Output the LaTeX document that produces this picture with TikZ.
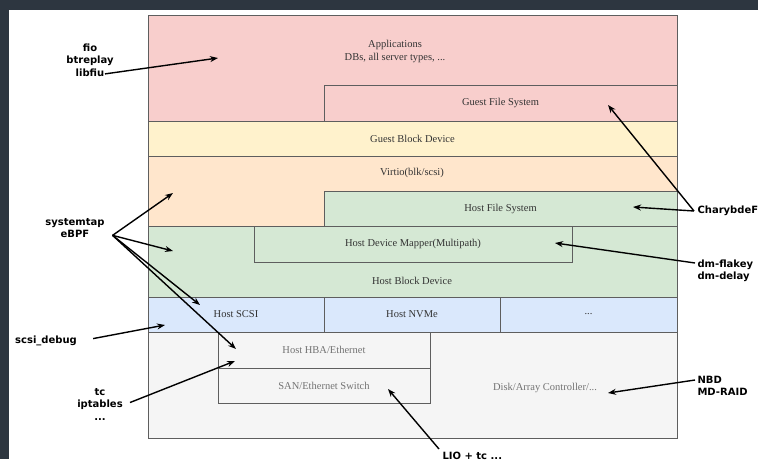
\documentclass[tikz,border=0pt]{standalone}
\usepackage{fontspec}
\setmainfont{Liberation Serif}
\newfontfamily\tagfont{DejaVu Sans}
\usepackage{xcolor}
\usetikzlibrary{arrows.meta,positioning,calc}
\definecolor{framedark}{HTML}{2D3640}
\definecolor{appfill}{HTML}{F8CECC}
\definecolor{gbdfill}{HTML}{FFF2CC}
\definecolor{virtfill}{HTML}{FFE6CC}
\definecolor{hostfill}{HTML}{D5E8D4}
\definecolor{scsifill}{HTML}{DAE8FC}
\definecolor{diskfill}{HTML}{F5F5F5}
\definecolor{edge}{HTML}{5E5E5E}

\begin{document}
\begin{tikzpicture}[x = 1pt, y = -1pt,
    layer/.style = {draw = edge, line width = 1pt, inner sep = 0pt, outer sep = 0pt, anchor = north west, font = \fontsize{10.5}{12}\selectfont, text = black!80},
    boxtext/.style = {align = center, font = \fontsize{10.5}{13}\selectfont, text = black!80},
    tool/.style = {align = center, font = \tagfont\bfseries\fontsize{10}{12.5}\selectfont},
    pointer/.style = {-{Stealth[length = 8pt, width = 6pt]}, line width = 1.4pt}]
    \useasboundingbox (0,0) rectangle (758,459);
    \fill[white] (0,0) rectangle (758,459);
    \fill[framedark] (0,0) rectangle (758,10);
    \fill[framedark] (0,0) rectangle (9,459);
    %%%%%%%%%%
    \node[layer, fill = appfill, minimum width = 529pt, minimum height = 106pt] (apps) at (148,15) {};
    \node[layer, fill = appfill, minimum width = 353pt, minimum height = 36pt] (guestfs) at (324,85) {Guest File System};
    \node[layer, fill = gbdfill, minimum width = 529pt, minimum height = 35pt] (gbd) at (148,121) {Guest Block Device};
    \node[layer, fill = virtfill, minimum width = 529pt, minimum height = 70pt] (virtio) at (148,156) {};
    \node[layer, fill = hostfill, minimum width = 353pt, minimum height = 35pt] (hostfs) at (324,191) {Host File System};
    \node[layer, fill = hostfill, minimum width = 529pt, minimum height = 71pt] (hbd) at (148,226) {};
    \node[layer, fill = hostfill, minimum width = 318pt, minimum height = 36pt] (dm) at (254,226) {Host Device Mapper(Multipath)};
    \node[layer, fill = scsifill, minimum width = 176pt, minimum height = 35pt] (scsi) at (148,297) {Host SCSI};
    \node[layer, fill = scsifill, minimum width = 176pt, minimum height = 35pt] (nvme) at (324,297) {Host NVMe};
    \node[layer, fill = scsifill, minimum width = 177pt, minimum height = 35pt] (other) at (500,297) {...};
    \node[layer, fill = diskfill, minimum width = 529pt, minimum height = 106pt] (disk) at (148,332) {};
    \node[layer, fill = diskfill, text = black!55, minimum width = 212pt, minimum height = 36pt] (hba) at (218,332) {Host HBA/Ethernet};
    \node[layer, fill = diskfill, text = black!55, minimum width = 212pt, minimum height = 35pt] (san) at (218,368) {SAN/Ethernet Switch};
    %%%%%%%%%%
    \node[boxtext] (appsText) at (395,51) {Applications\\DBs, all server types, ...};
    \node[boxtext] (virtioText) at (412,173) {Virtio(blk/scsi)};
    \node[boxtext] (hbdText) at (412,281) {Host Block Device};
    \node[boxtext, text = black!55] (diskText) at (545,388) {Disk/Array Controller/...};
    %%%%%%%%%%
    \node[tool] (fio) at (90,60) {fio\\btreplay\\libfiu};
    \node[tool] (stap) at (75,228) {systemtap\\eBPF};
    \node[tool] (scsidbg) at (46,341) {scsi\_debug};
    \node[tool] (tc) at (100,404) {tc\\iptables\\...};
    \node[tool, anchor = west] (chary) at (694,211) {CharybdeFS};
    \node[tool, anchor = west, align = left] (dmfault) at (694,271) {dm-flakey\\dm-delay};
    \node[tool, anchor = west, align = left] (nbd) at (694,386) {NBD\\MD-RAID};
    \node[tool, anchor = north west] (lio) at (439,449) {LIO + tc ...};
    %%%%%%%%%%
    \coordinate (appsTip) at (218,58);
    \coordinate (virtioTip) at (173,193);
    \coordinate (hbdTip) at (173,251);
    \coordinate (scsiTip) at (200,305);
    \coordinate (hbaTip) at (236,349);
    \coordinate (scsiDbgTip) at (165,325);
    \coordinate (tcTip) at (235,361);
    \coordinate (guestfsTip) at (608,105);
    \coordinate (hostfsTip) at (633,207);
    \coordinate (dmTip) at (555,243);
    \coordinate (diskTip) at (608,393);
    \coordinate (sanTip) at (388,389);
    %%%%%%%%%%
    \draw[pointer] ($(fio.south)+(15,-6)$) -- (appsTip);
    \draw[pointer] ($(stap.south east)+(4.5,-6)$) -- (virtioTip);
    \draw[pointer] ($(stap.south east)+(4.5,-6)$) -- (hbdTip);
    \draw[pointer] ($(stap.south east)+(4.5,-6)$) -- (scsiTip);
    \draw[pointer] ($(stap.south east)+(4.5,-6)$) -- (hbaTip);
    \draw[pointer, shorten <= 13pt] (scsidbg.east) -- (scsiDbgTip);
    \draw[pointer, shorten <= 4pt] (tc.east) -- (tcTip);
    \draw[pointer] (chary.west) -- (guestfsTip);
    \draw[pointer] (chary.west) -- (hostfsTip);
    \draw[pointer] ($(dmfault.west)+(1,-8)$) -- (dmTip);
    \draw[pointer] ($(nbd.west)+(1,-6)$) -- (diskTip);
    % LIO reaches up to the switch
    \draw[pointer] (lio.north west) -- (sanTip);
\end{tikzpicture}
\end{document}
